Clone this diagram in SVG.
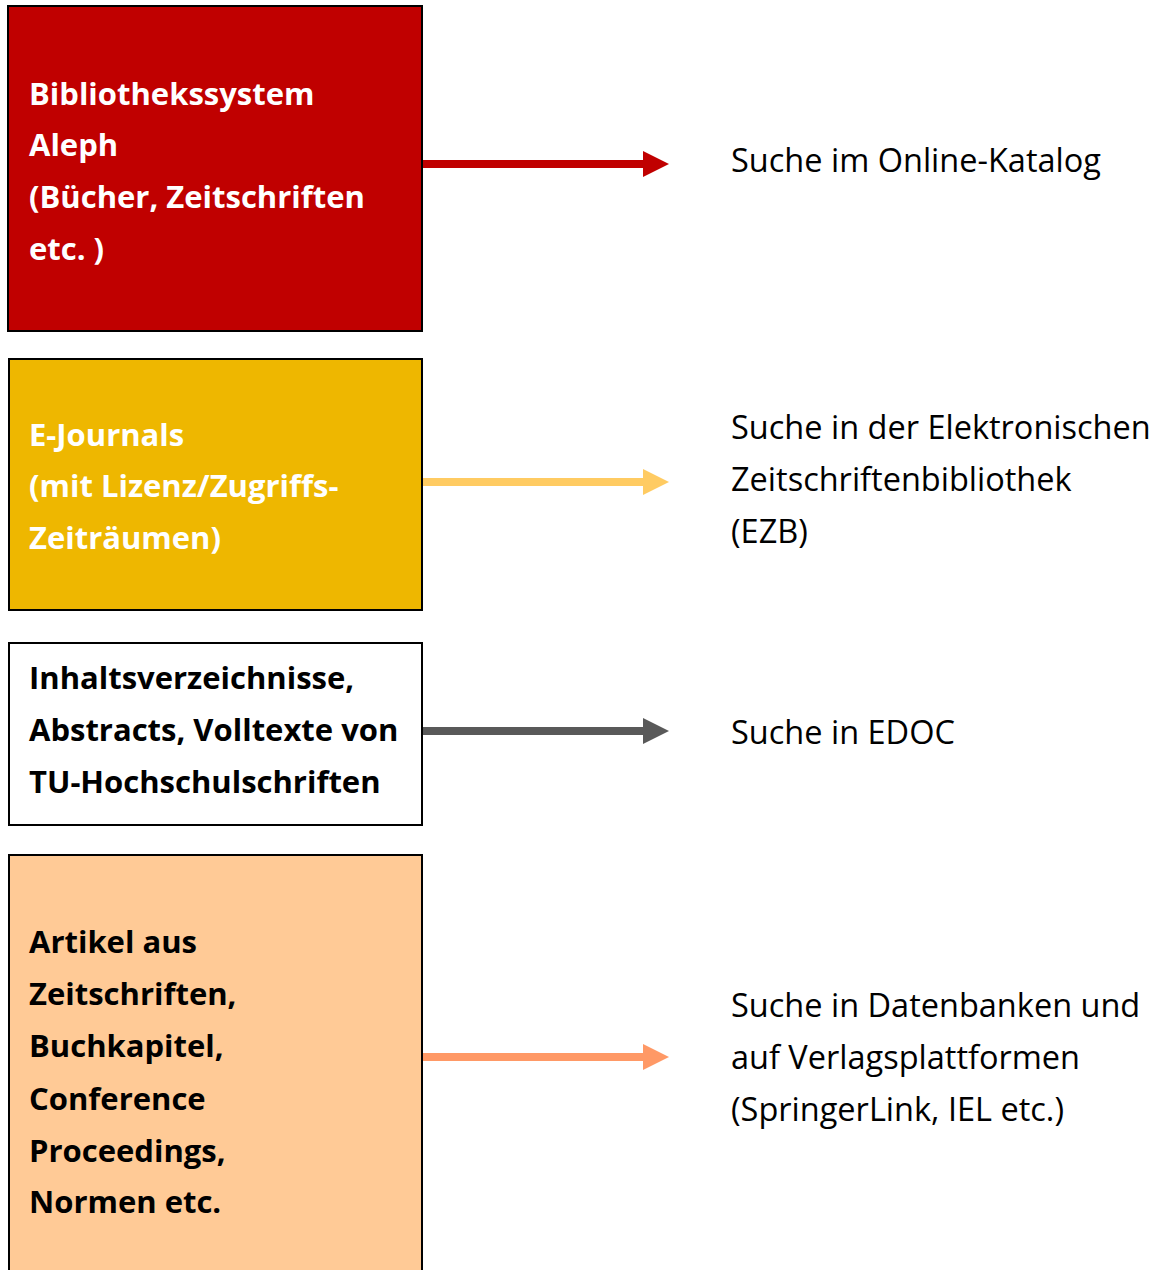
<svg xmlns="http://www.w3.org/2000/svg" width="1157" height="1270" viewBox="0 0 1157 1270">
<style>
.box{stroke:#000;stroke-width:2}
.bt{font-family:"Open Sans","Liberation Sans",sans-serif;font-weight:bold;font-size:31px}
.rt{font-family:"Open Sans","Liberation Sans",sans-serif;font-size:32.5px;fill:#000}
.ln{stroke-width:8;fill:none}
</style>
<defs>
<marker id="hRed" markerUnits="userSpaceOnUse" markerWidth="26" markerHeight="26" refX="0" refY="13" orient="auto"><path d="M0,0 L26,13 L0,26 z" fill="#C00000"/></marker>
<marker id="hYel" markerUnits="userSpaceOnUse" markerWidth="26" markerHeight="26" refX="0" refY="13" orient="auto"><path d="M0,0 L26,13 L0,26 z" fill="#FFCB62"/></marker>
<marker id="hGry" markerUnits="userSpaceOnUse" markerWidth="26" markerHeight="26" refX="0" refY="13" orient="auto"><path d="M0,0 L26,13 L0,26 z" fill="#595959"/></marker>
<marker id="hOrg" markerUnits="userSpaceOnUse" markerWidth="26" markerHeight="26" refX="0" refY="13" orient="auto"><path d="M0,0 L26,13 L0,26 z" fill="#FF9966"/></marker>
</defs>
<rect width="1157" height="1270" fill="#fff"/>
<g id="node-aleph">
<rect class="box" x="8" y="6" width="414" height="325" fill="#C00000"/>
<text class="bt" fill="#fff"><tspan x="29" y="105">Bibliothekssystem</tspan><tspan x="29" y="156">Aleph</tspan><tspan x="29" y="208">(Bücher, Zeitschriften</tspan><tspan x="29" y="260">etc. )</tspan></text>
</g>
<g id="node-ejournals">
<rect class="box" x="9" y="359" width="413" height="251" fill="#EEB700"/>
<text class="bt" fill="#fff"><tspan x="29" y="446">E-Journals</tspan><tspan x="29" y="497">(mit Lizenz/Zugriffs-</tspan><tspan x="29" y="549">Zeiträumen)</tspan></text>
</g>
<g id="node-edoc">
<rect class="box" x="9" y="643" width="413" height="182" fill="#fff"/>
<text class="bt" fill="#000"><tspan x="29" y="689">Inhaltsverzeichnisse,</tspan><tspan x="29" y="741">Abstracts, Volltexte von</tspan><tspan x="29" y="793">TU-Hochschulschriften</tspan></text>
</g>
<g id="node-artikel">
<rect class="box" x="9" y="855" width="413" height="420" fill="#FFCA96"/>
<text class="bt" fill="#000"><tspan x="29" y="953">Artikel aus</tspan><tspan x="29" y="1005">Zeitschriften,</tspan><tspan x="29" y="1057">Buchkapitel,</tspan><tspan x="29" y="1110">Conference</tspan><tspan x="29" y="1162">Proceedings,</tspan><tspan x="29" y="1213">Normen etc.</tspan></text>
</g>
<g id="label-opac">
<text class="rt"><tspan x="731" y="172">Suche im Online-Katalog</tspan></text>
</g>
<g id="label-ezb">
<text class="rt"><tspan x="731" y="439">Suche in der Elektronischen</tspan><tspan x="731" y="491">Zeitschriftenbibliothek</tspan><tspan x="731" y="543">(EZB)</tspan></text>
</g>
<g id="label-edoc">
<text class="rt"><tspan x="731" y="744">Suche in EDOC</tspan></text>
</g>
<g id="label-db">
<text class="rt"><tspan x="731" y="1017">Suche in Datenbanken und</tspan><tspan x="731" y="1069">auf Verlagsplattformen</tspan><tspan x="731" y="1121">(SpringerLink, IEL etc.)</tspan></text>
</g>
<g id="connectors">
<path class="ln" d="M423,164 H643" stroke="#C00000" marker-end="url(#hRed)"/>
<path class="ln" d="M423,482 H643" stroke="#FFCB62" marker-end="url(#hYel)"/>
<path class="ln" d="M423,731 H643" stroke="#595959" marker-end="url(#hGry)"/>
<path class="ln" d="M423,1057 H643" stroke="#FF9966" marker-end="url(#hOrg)"/>
</g>
</svg>
